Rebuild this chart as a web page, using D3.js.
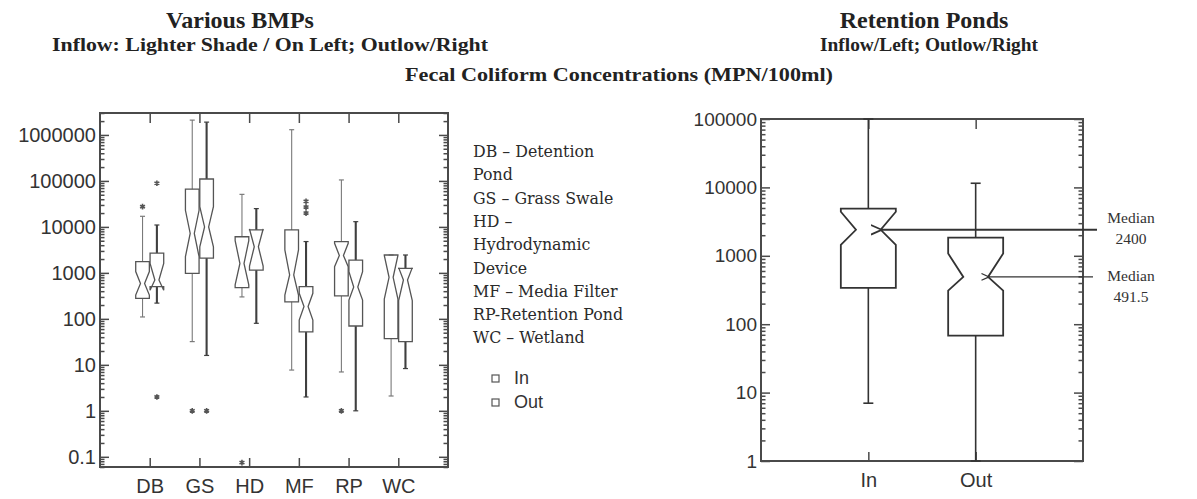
<!DOCTYPE html>
<html>
<head>
<meta charset="utf-8">
<script src="https://cdn.jsdelivr.net/npm/d3@7"></script>
<style>
  html, body { margin: 0; padding: 0; background: #fff; }
  svg { display: block; }
</style>
</head>
<body>
<svg id="chart" width="1197" height="499"></svg>
<script>
// Fecal coliform concentrations (MPN/100ml): inflow vs outflow per BMP type,
// plus a closer look at retention ponds.

const bmpCategories = ["DB", "GS", "HD", "MF", "RP", "WC"];
const flowTypes = ["In", "Out"];

// Inflow summaries per BMP category
const inWhiskerLow  = [110, 32, 300, 7.7, 7, 2.1];
const inQ1          = [280, 980, 480, 235, 315, 37];
const inNotchLow    = [330, 2250, 550, 330, 1360, 270];
const inMedian      = [590, 7200, 1600, 900, 2400, 800];
const inNotchHigh   = [1070, 23000, 5000, 3150, 4400, 2400];
const inQ3          = [1750, 66000, 6100, 8600, 4800, 2450];
const inWhiskerHigh = [17000, 2100000, 51000, 1300000, 105000, 2450];

// Outflow summaries per BMP category
const outWhiskerLow  = [220, 16, 80, 2, 1, 8.3];
const outQ1          = [500, 2100, 1150, 52, 70, 32];
const outNotchLow    = [420, 3700, 1400, 94, 256, 250];
const outMedian      = [700, 10000, 3700, 185, 491.5, 700];
const outNotchHigh   = [1600, 27500, 9000, 360, 1060, 1300];
const outQ3          = [2700, 110000, 8600, 500, 1900, 1250];
const outWhiskerHigh = [11000, 1900000, 25000, 4800, 13000, 2450];

// Individual outlying observations
const outlierCategory = ["DB", "DB", "DB", "GS", "GS", "HD", "MF", "MF", "MF", "RP"];
const outlierFlow     = ["In", "Out", "Out", "In", "Out", "In", "Out", "Out", "Out", "In"];
const outlierValue    = [27500, 89000, 2, 1, 1, 0.075, 20000, 27000, 36000, 1];

const bmpTickValues = [0.1, 1, 10, 100, 1000, 10000, 100000, 1000000];
const bmpTickLabels = ["0.1", "1", "10", "100", "1000", "10000", "100000", "1000000"];

const legendLines = [
  "DB \u2013 Detention", "Pond", "GS \u2013 Grass Swale", "HD \u2013",
  "Hydrodynamic", "Device", "MF \u2013 Media Filter", "RP-Retention Pond", "WC \u2013 Wetland"
];

// Retention ponds
const pondFlows       = ["In", "Out"];
const pondWhiskerLow  = [7, 1];
const pondQ1          = [340, 68];
const pondNotchLow    = [1450, 310];
const pondMedian      = [2400, 491.5];
const pondNotchHigh   = [4400, 1080];
const pondQ3          = [4900, 1850];
const pondWhiskerHigh = [100000, 11500];

const pondTickValues = [1, 10, 100, 1000, 10000, 100000];
const pondTickLabels = ["1", "10", "100", "1000", "10000", "100000"];

const svg = d3.select("#chart");
const ink = "#4a4a4a";
const serif = "'Liberation Serif', 'Times New Roman', serif";
const sans = "'Liberation Sans', Arial, sans-serif";

// ---------- titles ----------
const titles = svg.append("g").attr("font-family", serif).attr("font-weight", "bold").attr("fill", "#222");
titles.append("text").attr("x", 240).attr("y", 28).attr("text-anchor", "middle")
  .attr("font-size", 24).text("Various BMPs");
titles.append("text").attr("x", 52).attr("y", 51).attr("font-size", 18.5)
  .attr("textLength", 436).attr("lengthAdjust", "spacingAndGlyphs")
  .text("Inflow: Lighter Shade / On Left; Outlow/Right");
titles.append("text").attr("x", 405).attr("y", 81).attr("font-size", 19)
  .attr("textLength", 428).attr("lengthAdjust", "spacingAndGlyphs")
  .text("Fecal Coliform Concentrations (MPN/100ml)");
titles.append("text").attr("x", 924).attr("y", 28).attr("text-anchor", "middle")
  .attr("font-size", 24).text("Retention Ponds");
titles.append("text").attr("x", 820).attr("y", 51).attr("font-size", 18.5)
  .attr("textLength", 218).attr("lengthAdjust", "spacingAndGlyphs")
  .text("Inflow/Left; Outlow/Right");

// ---------- helpers ----------
function notchedBox(cx, hw, nw, y, s) {
  const p = d3.path();
  p.moveTo(cx - hw, y(s.q3));
  p.lineTo(cx + hw, y(s.q3));
  p.lineTo(cx + hw, y(s.nhi));
  p.lineTo(cx + nw, y(s.med));
  p.lineTo(cx + hw, y(s.nlo));
  p.lineTo(cx + hw, y(s.q1));
  p.lineTo(cx - hw, y(s.q1));
  p.lineTo(cx - hw, y(s.nlo));
  p.lineTo(cx - nw, y(s.med));
  p.lineTo(cx - hw, y(s.nhi));
  p.closePath();
  return p.toString();
}

function drawFrame(g, x0, x1, y, xScale, tickVals, tickLabels, labelSize, labelFill) {
  const [yb, yt] = y.range();
  const [d0, d1] = y.domain();
  const minor = y.ticks().filter(v => v >= d0 && v <= d1 && !tickVals.includes(v));

  // left axis: inside ticks, labels outside
  const left = g.append("g").attr("transform", `translate(${x0},0)`);
  left.call(d3.axisLeft(y).tickValues(tickVals).tickFormat((d, i) => tickLabels[i])
      .tickSize(-9).tickSizeOuter(0).tickPadding(4));
  left.append("g").call(d3.axisLeft(y).tickValues(minor).tickFormat("").tickSize(-4.5).tickSizeOuter(0));
  left.selectAll(".domain").remove();
  left.selectAll("text").attr("font-family", sans).attr("font-size", labelSize).attr("fill", labelFill);

  // right frame ticks
  const right = g.append("g").attr("transform", `translate(${x1},0)`);
  right.call(d3.axisRight(y).tickValues(tickVals).tickFormat("").tickSize(-9).tickSizeOuter(0));
  right.append("g").call(d3.axisRight(y).tickValues(minor).tickFormat("").tickSize(-4.5).tickSizeOuter(0));
  right.selectAll(".domain").remove();

  // category ticks top and bottom
  const bottom = g.append("g").attr("transform", `translate(0,${yb})`);
  bottom.call(d3.axisBottom(xScale).tickSize(-9).tickSizeOuter(0).tickPadding(12));
  bottom.selectAll(".domain").remove();
  bottom.selectAll("text").attr("font-family", sans).attr("font-size", 20).attr("fill", labelFill);
  const top = g.append("g").attr("transform", `translate(0,${yt})`);
  top.call(d3.axisTop(xScale).tickSize(-10).tickSizeOuter(0).tickFormat(""));
  top.selectAll(".domain").remove();
  g.selectAll(".tick line").attr("stroke", ink).attr("stroke-width", 1.5);

  g.append("rect").attr("x", x0).attr("y", yt).attr("width", x1 - x0).attr("height", yb - yt)
    .attr("fill", "none").attr("stroke", ink).attr("stroke-width", 2);
}

// ---------- left panel: all BMP categories ----------
const yBmp = d3.scaleLog().domain([0.06, 3e6]).range([467, 113]);
const xBmp = d3.scalePoint().domain(bmpCategories).range([100, 448]).padding(1);
const xFlow = d3.scaleBand().domain(flowTypes).range([-14, 14]).paddingInner(0.05);

const left = svg.append("g");
drawFrame(left, 100, 448, yBmp, xBmp, bmpTickValues, bmpTickLabels, 20, "#333");

const bmpStats = [];
bmpCategories.forEach((c, i) => {
  bmpStats.push({ cat: c, flow: "In", wl: inWhiskerLow[i], q1: inQ1[i], nlo: inNotchLow[i], med: inMedian[i],
    nhi: inNotchHigh[i], q3: inQ3[i], wh: inWhiskerHigh[i] });
  bmpStats.push({ cat: c, flow: "Out", wl: outWhiskerLow[i], q1: outQ1[i], nlo: outNotchLow[i], med: outMedian[i],
    nhi: outNotchHigh[i], q3: outQ3[i], wh: outWhiskerHigh[i] });
});

const flowStyle = {
  In:  { stroke: "#7a7a7a", width: 1.1 },
  Out: { stroke: "#3f3f3f", width: 2.1 }
};

const boxes = left.append("g").selectAll("g").data(bmpStats).join("g")
  .attr("transform", d => `translate(${xBmp(d.cat) + xFlow(d.flow) + xFlow.bandwidth() / 2},0)`);
const hwB = xFlow.bandwidth() / 2;

boxes.append("line").attr("x1", 0).attr("x2", 0)
  .attr("y1", d => yBmp(d.wh)).attr("y2", d => yBmp(d.q3))
  .attr("stroke", d => flowStyle[d.flow].stroke).attr("stroke-width", d => flowStyle[d.flow].width);
boxes.append("line").attr("x1", 0).attr("x2", 0)
  .attr("y1", d => yBmp(d.q1)).attr("y2", d => yBmp(d.wl))
  .attr("stroke", d => flowStyle[d.flow].stroke).attr("stroke-width", d => flowStyle[d.flow].width);
boxes.selectAll(".cap").data(d => [d.wl, d.wh].map(v => ({ v, flow: d.flow }))).join("line")
  .attr("class", "cap").attr("x1", -2.5).attr("x2", 2.5)
  .attr("y1", d => yBmp(d.v)).attr("y2", d => yBmp(d.v))
  .attr("stroke", d => flowStyle[d.flow].stroke).attr("stroke-width", 1.2);
boxes.append("path")
  .attr("d", d => notchedBox(0, hwB, hwB * 0.3, yBmp, d))
  .attr("fill", "none").attr("stroke", "#555").attr("stroke-width", 1.3);

// outliers
const outliers = outlierValue.map((v, i) => ({ v, cat: outlierCategory[i], flow: outlierFlow[i] }));
left.append("g").selectAll("path").data(outliers).join("path")
  .attr("transform", d => `translate(${xBmp(d.cat) + xFlow(d.flow) + xFlow.bandwidth() / 2},${yBmp(d.v)})`)
  .attr("d", d3.symbol(d3.symbolAsterisk, 22))
  .attr("fill", "none").attr("stroke", "#555").attr("stroke-width", 1.6);

// legend
const legend = svg.append("g").attr("font-family", "'DejaVu Serif', serif").attr("font-size", 15.8).attr("fill", "#2a2a2a");
legend.selectAll("text").data(legendLines).join("text")
  .attr("x", 473).attr("y", (d, i) => 157 + i * 23.3).text(d => d);
const flowKey = svg.append("g");
flowTypes.forEach((f, i) => {
  flowKey.append("rect").attr("x", 492).attr("y", 375 + i * 24).attr("width", 7).attr("height", 7)
    .attr("fill", "none").attr("stroke", "#555").attr("stroke-width", 1.2);
  flowKey.append("text").attr("x", 514).attr("y", 384 + i * 24).attr("font-family", sans)
    .attr("font-size", 18).attr("fill", "#333").text(f);
});

// ---------- right panel: retention ponds ----------
const yPond = d3.scaleLog().domain([1, 100000]).range([461, 119]);
const xPond = d3.scalePoint().domain(pondFlows).range([761, 1083]).padding(1);
const right = svg.append("g");
drawFrame(right, 761, 1083, yPond, xPond, pondTickValues, pondTickLabels, 19, "#333");

const pondStats = pondFlows.map((f, i) => ({ flow: f, wl: pondWhiskerLow[i], q1: pondQ1[i], nlo: pondNotchLow[i],
  med: pondMedian[i], nhi: pondNotchHigh[i], q3: pondQ3[i], wh: pondWhiskerHigh[i] }));
const hwP = 27.5;
const nwP = hwP * 0.45;

const pboxes = right.append("g").selectAll("g").data(pondStats).join("g")
  .attr("transform", d => `translate(${xPond(d.flow)},0)`);
pboxes.append("line").attr("x1", 0).attr("x2", 0)
  .attr("y1", d => yPond(d.wh)).attr("y2", d => yPond(d.q3)).attr("stroke", "#333").attr("stroke-width", 1.6);
pboxes.append("line").attr("x1", 0).attr("x2", 0)
  .attr("y1", d => yPond(d.q1)).attr("y2", d => yPond(d.wl)).attr("stroke", "#333").attr("stroke-width", 1.6);
pboxes.selectAll(".cap").data(d => [d.wl, d.wh]).join("line")
  .attr("class", "cap").attr("x1", -5).attr("x2", 5)
  .attr("y1", d => yPond(d)).attr("y2", d => yPond(d)).attr("stroke", "#333").attr("stroke-width", 1.6);
pboxes.append("path")
  .attr("d", d => notchedBox(0, hwP, nwP, yPond, d))
  .attr("fill", "none").attr("stroke", "#333").attr("stroke-width", 1.8);

// median call-outs
svg.append("defs").append("marker")
  .attr("id", "arrowhead").attr("viewBox", "0 0 10 10").attr("refX", 1).attr("refY", 5)
  .attr("markerWidth", 6).attr("markerHeight", 6).attr("orient", "auto-start-reverse")
  .append("path").attr("d", "M10,1 L1,5 L10,9").attr("fill", "none").attr("stroke", "#333").attr("stroke-width", 1.5);

const calloutEnd = [1097, 1093];
const calloutShift = [-7, 4];
pondStats.forEach((d, i) => {
  const yy = yPond(d.med);
  right.append("line").attr("x1", xPond(d.flow) + nwP + 1).attr("x2", calloutEnd[i])
    .attr("y1", yy).attr("y2", yy).attr("stroke", "#333").attr("stroke-width", i === 0 ? 2 : 1.4)
    .attr("marker-start", "url(#arrowhead)");
  const t = right.append("g").attr("font-family", serif).attr("font-size", 15.5).attr("fill", "#333")
    .attr("text-anchor", "middle");
  t.append("text").attr("x", 1131).attr("y", yy + calloutShift[i]).text("Median");
  t.append("text").attr("x", 1131).attr("y", yy + calloutShift[i] + 21).text(String(d.med));
});
</script>
</body>
</html>
